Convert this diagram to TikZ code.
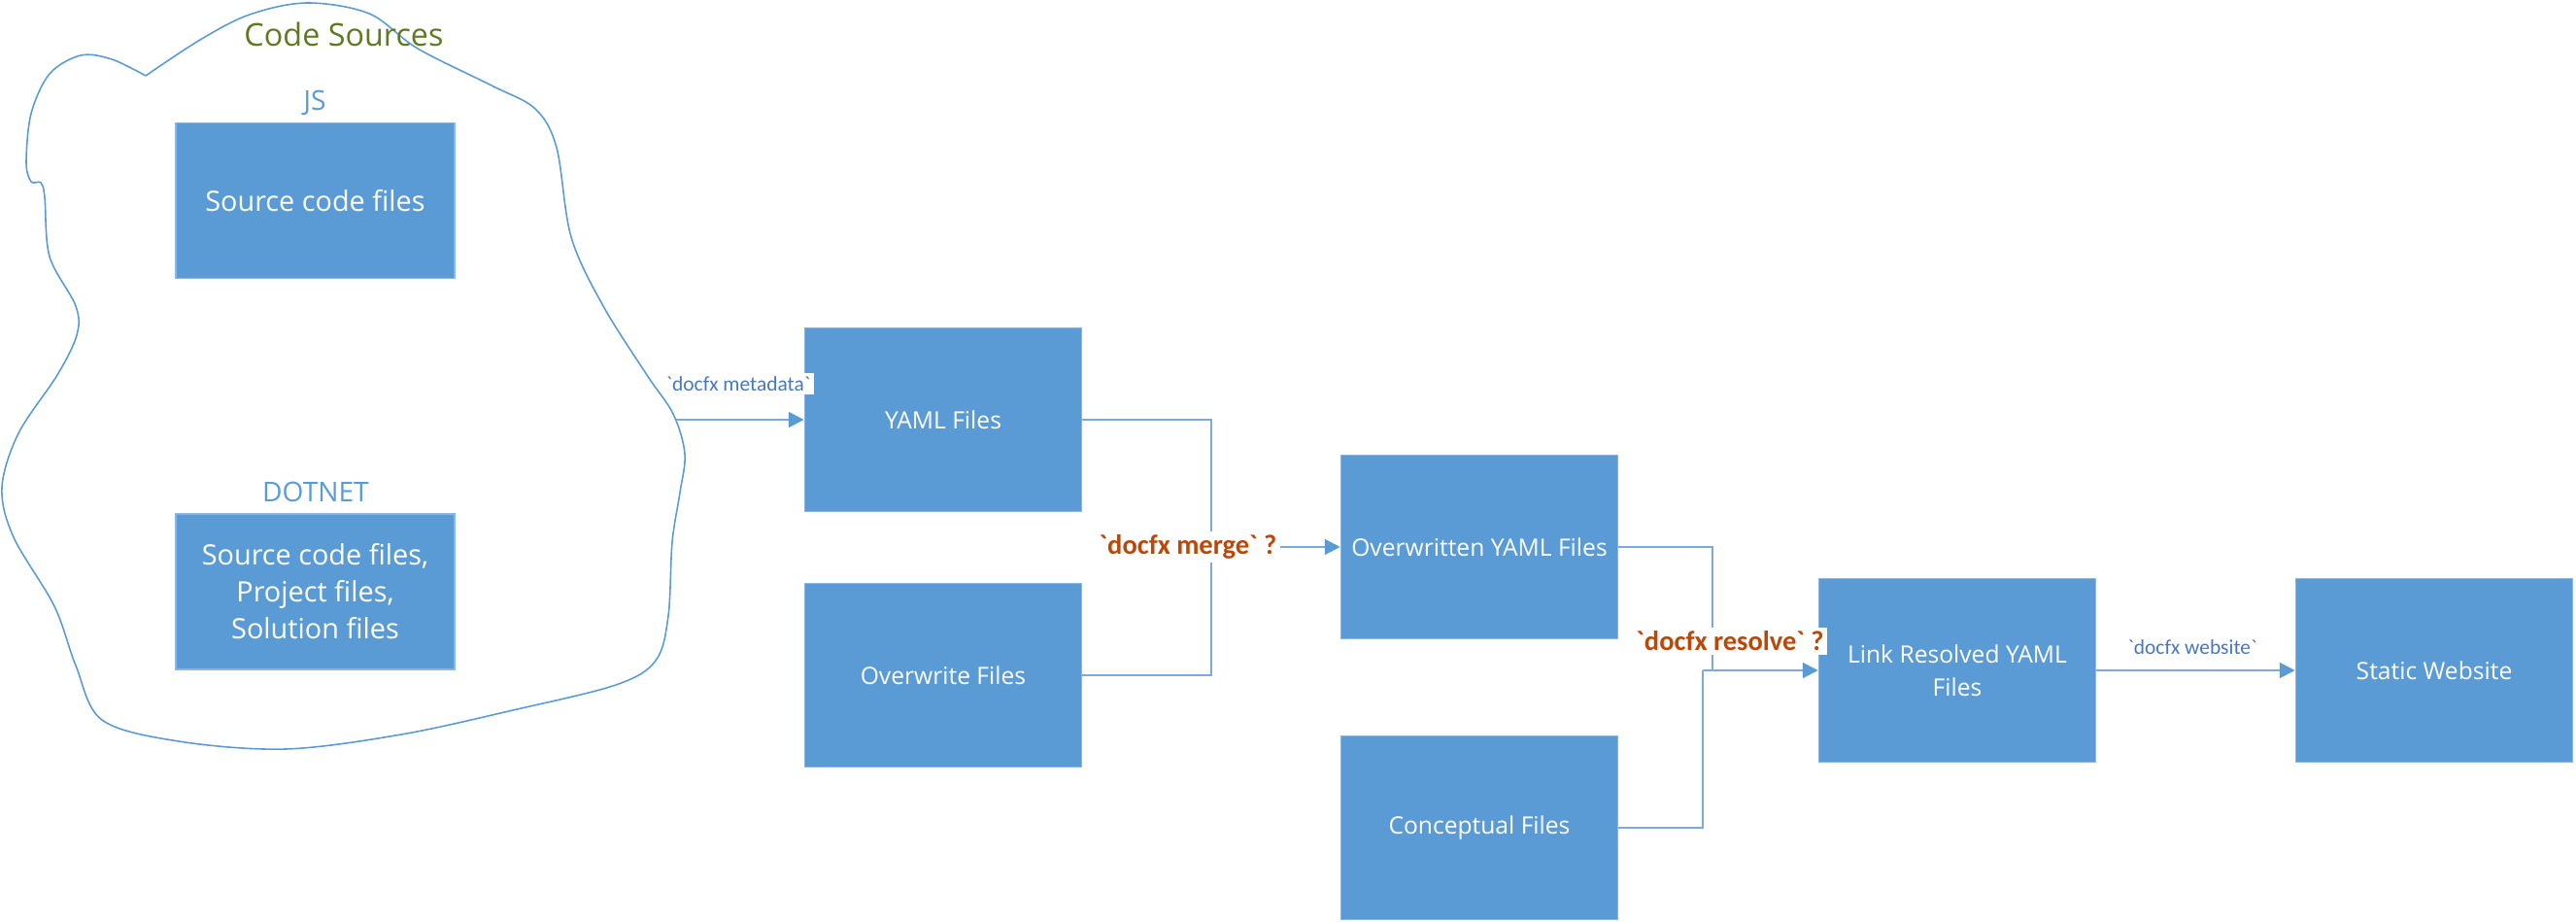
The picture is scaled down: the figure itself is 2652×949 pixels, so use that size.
\documentclass[tikz,border=0pt]{standalone}
\usepackage{fontspec}
\setmainfont{Open Sans}
\newfontfamily\cmdfont{Carlito}[Ligatures=TeXOff]
\usetikzlibrary{arrows.meta}
\definecolor{boxblue}{RGB}{91,155,213}
\definecolor{edgeblue}{RGB}{140,182,226}
\definecolor{lineblue}{RGB}{125,170,222}
\definecolor{cmdblue}{RGB}{72,120,190}
\definecolor{cmdorange}{RGB}{186,72,8}
\definecolor{srcgreen}{RGB}{94,122,32}
\tikzset{
	filebox/.style={fill=boxblue, draw=edgeblue, line width=0.4pt, text=white, align=center, inner sep=0pt,
		minimum width=2.85cm, minimum height=1.89cm, font=\fontsize{7}{9.7}\selectfont},
	srcbox/.style={filebox, minimum width=2.87cm, minimum height=1.6cm, font=\fontsize{8.2}{10.8}\selectfont},
	wire/.style={draw=lineblue, line width=0.6pt},
	flow/.style={wire, -{Triangle[length=4.5pt,width=4.5pt,color=boxblue]}},
	cmdsmall/.style={font=\cmdfont\fontsize{6.1}{7}\selectfont, text=cmdblue, inner sep=1pt},
	cmdbold/.style={font=\cmdfont\bfseries\fontsize{8.1}{10}\selectfont, text=cmdorange, fill=white, inner sep=1pt},
}

\begin{document}
\begin{tikzpicture}[x=0.01cm, y=-0.01cm]
			%%%%% START %%%%%
			\useasboundingbox (0, 0) rectangle (2652, 949);
			
			% cloud round the sources
			\draw[draw=boxblue, line width=0.45pt] plot[smooth, tension=0.55] coordinates {
				(150, 78) (206, 41) (257, 15) (316, 3) (380, 14) (430, 50) (506, 88) (551, 112)
				(573, 152) (588, 244) (621, 315) (666, 386) (693, 426) (705, 467) (700, 507)
				(692, 558) (688, 634) (675, 680) (634, 705) (528, 731) (413, 756) (294, 771)
				(184, 763) (105, 741) (78, 685) (56, 624) (14, 553) (2, 502) (19, 446)
				(59, 386) (79, 345) (78, 315) (51, 264) (46, 203) (42, 188) (32, 187)
				(27, 167) (32, 117) (51, 76) (83, 57) (115, 61) (150, 78)};
			\coordinate (cloudexit) at (696, 432);
			
			\node[font=\fontsize{9.2}{11}\selectfont, text=srcgreen] (cloudtitle) at (354, 35) {Code Sources};
			
			\node[font=\fontsize{8}{10}\selectfont, text=boxblue] (jslabel) at (324, 106) {JS};
			\node[srcbox] (jsbox) at (324.5, 206.5) {Source code files};
			
			\node[font=\fontsize{8}{10}\selectfont, text=boxblue] (dotnetlabel) at (325, 506) {DOTNET};
			\node[srcbox] (dotnetbox) at (324.5, 609) {Source code files,\\Project files,\\Solution files};
			
			% files
			\node[filebox] (yaml) at (971, 432) {YAML Files};
			\node[filebox] (overwrite) at (971, 695) {Overwrite Files};
			\node[filebox] (overwritten) at (1523, 563) {Overwritten YAML Files};
			\node[filebox] (conceptual) at (1523, 852) {Conceptual Files};
			\node[filebox] (linked) at (2015, 690) {Link Resolved YAML\\Files};
			\node[filebox] (website) at (2506, 690) {Static Website};
			
			% metadata
			\draw[flow] (cloudexit) -- (yaml.west);
			\node[cmdsmall, fill=white] (metadatalabel) at (760, 395) {`docfx metadata`};
			
			% merge
			\coordinate (mergeknee) at (1247, 563);
			\draw[wire] (yaml.east) -| (mergeknee) |- (overwrite.east);
			\draw[flow] (mergeknee) -- (overwritten.west);
			\node[cmdbold] (mergelabel) at (1223, 563) {`docfx merge` ?};
			
			% resolve
			\coordinate (resolveknee) at (1763, 690);
			\coordinate (conceptknee) at (1753, 690);
			\draw[wire] (overwritten.east) -| (resolveknee);
			\draw[wire] (conceptual.east) -| (conceptknee);
			\draw[flow] (conceptknee) -- (linked.west);
			\node[cmdbold] (resolvelabel) at (1781, 660) {`docfx resolve` ?};
			
			% website
			\draw[flow] (linked.east) -- (website.west);
			\node[cmdsmall] (websitelabel) at (2257, 666) {`docfx website`};
			
			%%%%% END %%%%%
\end{tikzpicture}
\end{document}
